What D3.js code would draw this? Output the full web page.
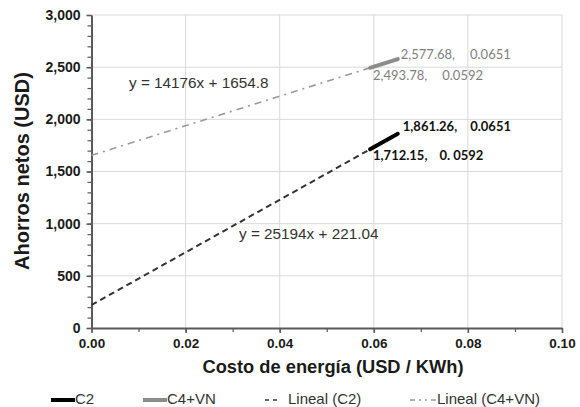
<!DOCTYPE html>
<html>
<head>
<meta charset="utf-8">
<script src="https://cdn.jsdelivr.net/npm/d3@7"></script>
<style>
  html, body { margin: 0; padding: 0; background: #fff; }
  svg { display: block; }
</style>
</head>
<body>
<svg id="chart" width="580" height="407"></svg>
<script>
// Measured points for each configuration: [energy cost, net savings]
const c2Points = [[0.0592, 1712.15], [0.0651, 1861.26]];
const c4vnPoints = [[0.0592, 2493.78], [0.0651, 2577.68]];
// Linear trend fits (slope, intercept)
const c2Trend = { slope: 25194, intercept: 221.04, label: "y = 25194x + 221.04" };
const c4vnTrend = { slope: 14176, intercept: 1654.8, label: "y = 14176x + 1654.8" };
// Point labels: [savings part, cost part]
const c2Labels = [["1,712.15,", "0. 0592"], ["1,861.26,", "0.0651"]];
const c4vnLabels = [["2,493.78,", "0.0592"], ["2,577.68,", "0.0651"]];
// Axis ticks
const xTicks = [0, 0.02, 0.04, 0.06, 0.08, 0.10];
const yTicks = [0, 500, 1000, 1500, 2000, 2500, 3000];
const legendItems = ["C2", "C4+VN", "Lineal (C2)", "Lineal (C4+VN)"];

const svg = d3.select("#chart");
const x = d3.scaleLinear().domain([0, 0.10]).range([91.5, 562]);
const y = d3.scaleLinear().domain([0, 3000]).range([328, 15]);

const axisColor = "#5a5a5a";
const gridColor = "#d9d9d9";
const sans = "Liberation Sans, Arial, sans-serif";

// Gridlines
svg.append("g").selectAll("line").data(xTicks.slice(1)).join("line")
  .attr("x1", d => x(d)).attr("x2", d => x(d))
  .attr("y1", y(0)).attr("y2", y(3000))
  .attr("stroke", gridColor).attr("stroke-width", 1);
svg.append("g").selectAll("line").data(yTicks.slice(1)).join("line")
  .attr("x1", x(0)).attr("x2", x(0.10))
  .attr("y1", d => y(d)).attr("y2", d => y(d))
  .attr("stroke", gridColor).attr("stroke-width", 1);

// Minor ticks
const yMinor = d3.range(0, 3001, 100);
const xMinor = d3.range(0, 0.1001, 0.01);
svg.append("g").attr("transform", `translate(${x(0)},0)`)
  .call(d3.axisLeft(y).tickValues(yMinor).tickSize(4).tickFormat(""))
  .call(g => g.select(".domain").remove())
  .call(g => g.selectAll("line").attr("stroke", axisColor).attr("stroke-width", 1.2));
svg.append("g").attr("transform", `translate(0,${y(0)})`)
  .call(d3.axisBottom(x).tickValues(xMinor).tickSize(4).tickFormat(""))
  .call(g => g.select(".domain").remove())
  .call(g => g.selectAll("line").attr("stroke", axisColor).attr("stroke-width", 1.2));

// Major axes
const yAxis = svg.append("g").attr("transform", `translate(${x(0)},0)`)
  .call(d3.axisLeft(y).tickValues(yTicks).tickSize(5).tickSizeOuter(0).tickPadding(6).tickFormat(d3.format(",")));
const xAxis = svg.append("g").attr("transform", `translate(0,${y(0)})`)
  .call(d3.axisBottom(x).tickValues(xTicks).tickSize(5).tickSizeOuter(0).tickPadding(5).tickFormat(d3.format(".2f")));
[yAxis, xAxis].forEach(a => {
  a.select(".domain").attr("stroke", axisColor).attr("stroke-width", 2);
  a.selectAll(".tick line").attr("stroke", axisColor).attr("stroke-width", 1.5);
  a.selectAll("text").attr("fill", "#1a1a1a")
    .style("font-family", sans).style("font-weight", "bold");
});
yAxis.selectAll("text").style("font-size", "14px");
xAxis.selectAll("text").style("font-size", "13.5px");

// Trend lines
const trendLine = (t, x0, x1) => d3.line().x(d => x(d)).y(d => y(t.slope * d + t.intercept))([x0, x1]);
svg.append("path").attr("d", trendLine(c4vnTrend, 0, 0.0651))
  .attr("fill", "none").attr("stroke", "#9a9a9a").attr("stroke-width", 1.6)
  .attr("stroke-dasharray", "7,5,2,5");
svg.append("path").attr("d", trendLine(c2Trend, 0, 0.0651))
  .attr("fill", "none").attr("stroke", "#333").attr("stroke-width", 2)
  .attr("stroke-dasharray", "6,4");

// Data segments
const seg = d3.line().x(d => x(d[0])).y(d => y(d[1]));
svg.append("path").attr("d", seg(c4vnPoints))
  .attr("fill", "none").attr("stroke", "#8c8c8c").attr("stroke-width", 4).attr("stroke-linecap", "round");
svg.append("path").attr("d", seg(c2Points))
  .attr("fill", "none").attr("stroke", "#000").attr("stroke-width", 4).attr("stroke-linecap", "round");

// Point labels
const labelFont = "Lato, 'Open Sans', sans-serif";
const addLabel = (px, py, parts, color, weight, gap) => {
  const t = svg.append("text").attr("x", px).attr("y", py)
    .attr("dominant-baseline", "middle").attr("fill", color)
    .style("font-family", labelFont).style("font-size", "13px").style("font-weight", weight);
  t.append("tspan").text(parts[0]);
  t.append("tspan").attr("dx", gap).text(parts[1]);
};
addLabel(x(c4vnPoints[1][0]) + 3, y(c4vnPoints[1][1]) - 3, c4vnLabels[1], "#808080", "normal", 15);
addLabel(x(c4vnPoints[0][0]) + 3, y(c4vnPoints[0][1]) + 9, c4vnLabels[0], "#808080", "normal", 15);
addLabel(x(c2Points[1][0]) + 5, y(c2Points[1][1]) - 6, c2Labels[1], "#111", "bold", 13);
addLabel(x(c2Points[0][0]) + 3, y(c2Points[0][1]) + 8, c2Labels[0], "#111", "bold", 12);

// Equation labels
svg.append("text").attr("x", 129).attr("y", 84).attr("dominant-baseline", "middle")
  .text(c4vnTrend.label).attr("fill", "#333").style("font-family", sans).style("font-size", "15.3px");
svg.append("text").attr("x", 239).attr("y", 235).attr("dominant-baseline", "middle")
  .text(c2Trend.label).attr("fill", "#333").style("font-family", sans).style("font-size", "15.3px");

// Axis titles
svg.append("text").attr("x", 333).attr("y", 368).attr("text-anchor", "middle")
  .attr("dominant-baseline", "middle")
  .text("Costo de energía (USD / KWh)").attr("fill", "#1a1a1a")
  .style("font-family", sans).style("font-size", "18.3px").style("font-weight", "bold");
svg.append("text").attr("transform", "translate(24,171) rotate(-90)")
  .attr("text-anchor", "middle").attr("dominant-baseline", "middle")
  .text("Ahorros netos (USD)").attr("fill", "#1a1a1a")
  .style("font-family", sans).style("font-size", "20px").style("font-weight", "bold");

// Legend
const legendY = 400;
const legendStyles = [
  { x: 51, stroke: "#000", width: 4, dash: null, len: 24, textX: 75 },
  { x: 143, stroke: "#8c8c8c", width: 4, dash: null, len: 24, textX: 167 },
  { x: 265, stroke: "#333", width: 1.6, dash: "4,4,4", len: 12, textX: 288 },
  { x: 410, stroke: "#999", width: 1.6, dash: "5,4,2,4,2,4,5", len: 26, textX: 437 }
];
const lg = svg.append("g");
legendItems.forEach((name, i) => {
  const s = legendStyles[i];
  lg.append("line").attr("x1", s.x).attr("x2", s.x + s.len)
    .attr("y1", legendY).attr("y2", legendY)
    .attr("stroke", s.stroke).attr("stroke-width", s.width)
    .attr("stroke-dasharray", s.dash);
  lg.append("text").attr("x", s.textX).attr("y", legendY).attr("dominant-baseline", "middle")
    .text(name).attr("fill", "#333").style("font-family", sans).style("font-size", "15px");
});
</script>
</body>
</html>
